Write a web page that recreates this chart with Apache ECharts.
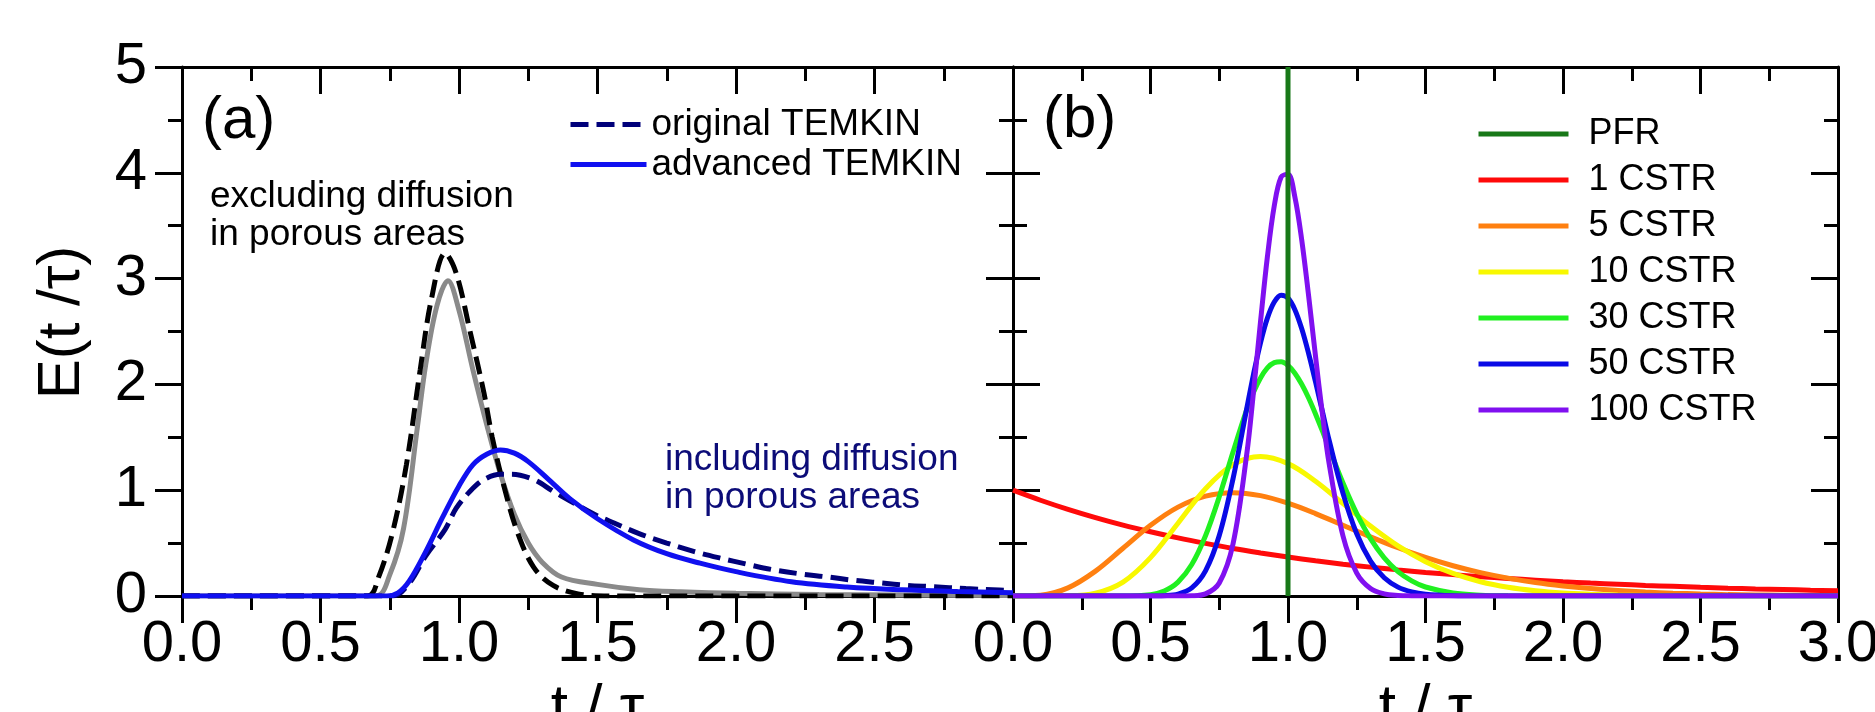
<!DOCTYPE html>
<html>
<head>
<meta charset="utf-8">
<title>E(t/τ) - TEMKIN vs CSTR cascade</title>
<script src="https://cdn.jsdelivr.net/npm/echarts@6.0.0/dist/echarts.min.js"></script>
<style>
html, body { margin: 0; padding: 0; background: #fff; }
#chart { width: 1875px; height: 712px; }
</style>
</head>
<body>
<div id="chart"></div>
<script>
// ---- panel (a): TEMKIN curves ----
var grayT  = [0, 0.70, 0.75, 0.80, 0.85, 0.88, 0.92, 0.96, 1.00, 1.05, 1.10, 1.15, 1.20, 1.25, 1.30, 1.37, 1.50, 1.65, 1.80, 2.00, 2.30, 2.60, 3.00];
var grayE  = [0, 0, 0.20, 0.64, 1.60, 2.19, 2.74, 2.98, 2.70, 2.14, 1.62, 1.15, 0.77, 0.50, 0.32, 0.18, 0.11, 0.06, 0.04, 0.025, 0.015, 0.01, 0.005];

var blackT = [0, 0.67, 0.71, 0.76, 0.81, 0.86, 0.90, 0.95, 0.99, 1.04, 1.09, 1.12, 1.16, 1.21, 1.27, 1.34, 1.43, 1.55, 3.00];
var blackE = [0, 0, 0.18, 0.60, 1.24, 2.14, 2.80, 3.24, 3.05, 2.50, 1.92, 1.50, 1.06, 0.61, 0.27, 0.10, 0.02, 0, 0];

var navyT  = [0, 0.76, 0.82, 0.88, 0.95, 0.99, 1.04, 1.09, 1.15, 1.19, 1.27, 1.34, 1.40, 1.49, 1.56, 1.65, 1.75, 1.85, 1.94, 2.04, 2.13, 2.23, 2.33, 2.42, 2.52, 2.62, 2.71, 2.83, 2.95, 3.00];
var navyE  = [0, 0, 0.12, 0.38, 0.63, 0.83, 0.99, 1.10, 1.15, 1.15, 1.10, 0.99, 0.90, 0.77, 0.69, 0.59, 0.50, 0.42, 0.36, 0.30, 0.25, 0.21, 0.18, 0.15, 0.125, 0.10, 0.088, 0.07, 0.057, 0.05];

var blueT  = [0, 0.74, 0.78, 0.82, 0.88, 0.94, 1.00, 1.05, 1.10, 1.15, 1.20, 1.25, 1.32, 1.40, 1.50, 1.63, 1.75, 1.87, 2.00, 2.20, 2.40, 2.60, 2.80, 3.00];
var blueE  = [0, 0, 0.03, 0.14, 0.42, 0.74, 1.04, 1.24, 1.34, 1.38, 1.35, 1.27, 1.11, 0.92, 0.73, 0.53, 0.40, 0.31, 0.23, 0.135, 0.085, 0.058, 0.042, 0.03];

// ---- panel (b): PFR and CSTR cascades ----
var tCoarse = [0, 0.1, 0.2, 0.3, 0.4, 0.5, 0.6, 0.7, 0.8, 0.9, 1.0, 1.1, 1.2, 1.3, 1.4, 1.5, 1.6, 1.7, 1.8, 1.9, 2.0, 2.1, 2.2, 2.3, 2.4, 2.5, 2.6, 2.7, 2.8, 2.9, 3.0];
var e1Cstr  = [1.000, 0.905, 0.819, 0.741, 0.670, 0.607, 0.549, 0.497, 0.449, 0.407, 0.368, 0.333, 0.301, 0.273, 0.247, 0.223, 0.202, 0.183, 0.165, 0.150, 0.135, 0.122, 0.111, 0.100, 0.091, 0.082, 0.074, 0.067, 0.061, 0.055, 0.050];
var e5Cstr  = [0, 0.008, 0.077, 0.235, 0.451, 0.668, 0.840, 0.944, 0.977, 0.949, 0.877, 0.779, 0.669, 0.559, 0.456, 0.365, 0.286, 0.221, 0.169, 0.127, 0.095, 0.070, 0.051, 0.037, 0.027, 0.019, 0.013, 0.010, 0.007, 0.005, 0.003];
var e10Cstr = [0, 0.000, 0.002, 0.027, 0.132, 0.363, 0.688, 1.014, 1.241, 1.318, 1.251, 1.085, 0.874, 0.661, 0.473, 0.324, 0.213, 0.135, 0.083, 0.050, 0.029, 0.017, 0.009, 0.005, 0.003, 0.002, 0.001, 0, 0, 0, 0];

var tFine    = [0, 0.4, 0.5, 0.55, 0.6, 0.65, 0.7, 0.75, 0.8, 0.85, 0.875, 0.9, 0.925, 0.95, 0.975, 1.0, 1.025, 1.05, 1.075, 1.1, 1.125, 1.15, 1.2, 1.25, 1.3, 1.35, 1.4, 1.45, 1.5, 1.6, 1.7, 1.8, 2.0, 3.0];
var e30Cstr  = [0, 0, 0.013, 0.047, 0.131, 0.297, 0.569, 0.938, 1.360, 1.761, 1.928, 2.061, 2.156, 2.206, 2.214, 2.179, 2.106, 2.001, 1.871, 1.721, 1.560, 1.394, 1.068, 0.779, 0.542, 0.361, 0.231, 0.143, 0.085, 0.028, 0.008, 0.002, 0, 0];
var e50Cstr  = [0, 0, 0, 0.003, 0.018, 0.076, 0.237, 0.571, 1.107, 1.772, 2.101, 2.393, 2.626, 2.779, 2.843, 2.816, 2.706, 2.525, 2.291, 2.025, 1.745, 1.468, 0.970, 0.588, 0.330, 0.172, 0.084, 0.039, 0.017, 0.003, 0, 0, 0, 0];
var e100Cstr = [0, 0, 0, 0, 0, 0.002, 0.020, 0.123, 0.492, 1.341, 1.941, 2.591, 3.205, 3.687, 3.960, 3.986, 3.771, 3.364, 2.837, 2.267, 1.722, 1.245, 0.567, 0.217, 0.071, 0.020, 0.005, 0.001, 0, 0, 0, 0, 0, 0];

var pfrT = [1, 1];
var pfrE = [0, 5];

var xTicks = [0, 3, 0.5];   // min, max, step of t / tau
var yTicks = [0, 5, 1];     // min, max, step of E

var legendA = ['original TEMKIN', 'advanced TEMKIN'];
var legendB = ['PFR', '1 CSTR', '5 CSTR', '10 CSTR', '30 CSTR', '50 CSTR', '100 CSTR'];

var FONT = 'Liberation Sans';

function zip(ts, es) {
  var out = [];
  for (var i = 0; i < ts.length; i++) out.push([ts[i], es[i]]);
  return out;
}

var axisPen = { color: '#000', width: 3 };

// one frame side of a panel
function side(gridIndex, position, inside, showLabel) {
  return {
    type: 'value',
    gridIndex: gridIndex,
    position: position,
    axisLine: { show: true, onZero: false, lineStyle: axisPen },
    axisTick: { show: true, inside: inside, length: 27, lineStyle: axisPen },
    minorTick: { show: true, splitNumber: 2, length: 14, lineStyle: axisPen },
    splitLine: { show: false },
    minorSplitLine: { show: false },
    axisLabel: { show: showLabel, color: '#000', fontSize: 58, fontFamily: FONT },
    silent: true
  };
}

function xSide(gridIndex, position, inside, showLabel, hideLast) {
  var a = side(gridIndex, position, inside, showLabel);
  a.min = xTicks[0]; a.max = xTicks[1]; a.interval = xTicks[2];
  a.axisLabel.margin = 20;
  a.axisLabel.formatter = function (v) {
    if (hideLast && v === xTicks[1]) return '';
    return v.toFixed(1);
  };
  if (position === 'bottom') {
    a.name = 't / τ';
    a.nameLocation = 'middle';
    a.nameGap = 74;
    a.nameTextStyle = { fontSize: 62, color: '#000', fontFamily: FONT };
  }
  return a;
}

function ySide(gridIndex, position, inside, showLabel) {
  var a = side(gridIndex, position, inside, showLabel);
  a.min = yTicks[0]; a.max = yTicks[1]; a.interval = yTicks[2];
  a.axisLabel.margin = 35;
  return a;
}

var yLeftA = ySide(0, 'left', false, true);
yLeftA.name = 'E(t /τ)';
yLeftA.nameLocation = 'middle';
yLeftA.nameGap = 90;
yLeftA.nameTextStyle = { fontSize: 60, color: '#000', fontFamily: FONT, padding: [0, 0, 0, 18] };

function curve(name, axis, ts, es, color, dashed) {
  return {
    name: name,
    type: 'line',
    xAxisIndex: axis,
    yAxisIndex: axis,
    data: zip(ts, es),
    showSymbol: false,
    symbol: 'none',
    smooth: 0.35,
    lineStyle: { color: color, width: 5, type: dashed ? [18, 8] : 'solid', cap: 'butt' },
    itemStyle: { color: color },
    silent: true
  };
}

var chart = echarts.init(document.getElementById('chart'));
chart.setOption({
  animation: false,
  backgroundColor: '#fff',
  textStyle: { fontFamily: FONT },
  // fixed plot boxes: the axis titles are allowed to run off the bottom edge
  grid: [
    { left: 182, top: 67, width: 831, height: 529, outerBoundsMode: 'none', containLabel: false },
    { left: 1013, top: 67, width: 825, height: 529, outerBoundsMode: 'none', containLabel: false }
  ],
  xAxis: [
    xSide(0, 'bottom', false, true, true),
    xSide(0, 'top', true, false, false),
    xSide(1, 'bottom', false, true, false),
    xSide(1, 'top', true, false, false)
  ],
  yAxis: [
    yLeftA,
    ySide(0, 'right', true, false),
    ySide(1, 'left', true, false),
    ySide(1, 'right', true, false)
  ],
  legend: [
    {
      data: legendA,
      orient: 'vertical',
      left: 568, top: 106, padding: 0,
      itemWidth: 76, itemHeight: 14, itemGap: 3,
      selectedMode: false,
      itemStyle: { opacity: 0 },
      lineStyle: { width: 5 },
      textStyle: { fontSize: 37, color: '#000', fontFamily: FONT }
    },
    {
      data: legendB,
      orient: 'vertical',
      left: 1476, top: 116, padding: 0,
      itemWidth: 90, itemHeight: 14, itemGap: 10,
      selectedMode: false,
      itemStyle: { opacity: 0 },
      lineStyle: { width: 5 },
      textStyle: { fontSize: 36, color: '#000', fontFamily: FONT, padding: [0, 0, 0, 15] }
    }
  ],
  graphic: [
    { type: 'text', x: 202, y: 121, style: { text: '(a)', fontSize: 60, fontFamily: FONT, fill: '#000', align: 'left', verticalAlign: 'middle' } },
    { type: 'text', x: 1043, y: 120, style: { text: '(b)', fontSize: 60, fontFamily: FONT, fill: '#000', align: 'left', verticalAlign: 'middle' } },
    { type: 'text', x: 210, y: 216, style: { text: 'excluding diffusion\nin porous areas', fontSize: 37, lineHeight: 38, fontFamily: FONT, fill: '#000', align: 'left', verticalAlign: 'middle' } },
    { type: 'text', x: 665, y: 479, style: { text: 'including diffusion\nin porous areas', fontSize: 37, lineHeight: 38, fontFamily: FONT, fill: '#0c0c78', align: 'left', verticalAlign: 'middle' } }
  ],
  series: [
    curve('advanced TEMKIN, excluding diffusion', 0, grayT, grayE, '#8a8a8a', false),
    curve('original TEMKIN, excluding diffusion', 0, blackT, blackE, '#000000', true),
    curve('original TEMKIN', 0, navyT, navyE, '#00007a', true),
    curve('advanced TEMKIN', 0, blueT, blueE, '#1010f0', false),

    curve('1 CSTR', 2, tCoarse, e1Cstr, '#ff0a0a', false),
    curve('5 CSTR', 2, tCoarse, e5Cstr, '#ff8010', false),
    curve('10 CSTR', 2, tCoarse, e10Cstr, '#f8f800', false),
    curve('30 CSTR', 2, tFine, e30Cstr, '#20f020', false),
    curve('50 CSTR', 2, tFine, e50Cstr, '#0a0ae6', false),
    curve('100 CSTR', 2, tFine, e100Cstr, '#8010f0', false),
    curve('PFR', 2, pfrT, pfrE, '#187818', false)
  ]
});
</script>
</body>
</html>
